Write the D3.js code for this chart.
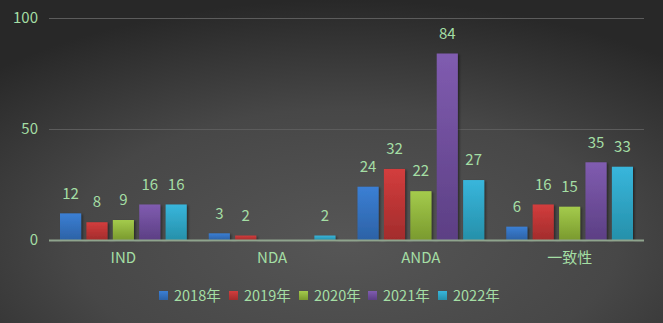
<!DOCTYPE html>
<html><head><meta charset="utf-8">
<script src="https://cdn.jsdelivr.net/npm/d3@7"></script>
<style>html,body{margin:0;padding:0;background:#333;}svg{display:block;}</style>
</head><body>
<svg id="chart" width="663" height="323"></svg>
<script>
const categories = ["IND", "NDA", "ANDA", "一致性"];
const seriesNames = ["2018年", "2019年", "2020年", "2021年", "2022年"];
const s2018 = [12, 3, 24, 6];
const s2019 = [8, 2, 32, 16];
const s2020 = [9, null, 22, 15];
const s2021 = [16, null, 84, 35];
const s2022 = [16, 2, 27, 33];
const yTicks = [0, 50, 100];
const seriesValues = [s2018, s2019, s2020, s2021, s2022];
const colorsTop = ["#3b7fd4", "#d33d3d", "#a4cb4c", "#805cb0", "#38b6dc"];
const colorsBot = ["#2c62a6", "#a22c2c", "#7a9a2e", "#5c3f84", "#2690aa"];
const textColor = "#a4dea4";
const font = "'Noto Sans CJK SC', 'DejaVu Sans', sans-serif";

const svg = d3.select("#chart");
const W = 663, H = 323;
const defs = svg.append("defs");
const bg = defs.append("radialGradient").attr("id", "bg")
  .attr("cx", "52%").attr("cy", "75%").attr("r", "75%");
bg.append("stop").attr("offset", "0%").attr("stop-color", "#565656");
bg.append("stop").attr("offset", "55%").attr("stop-color", "#474747");
bg.append("stop").attr("offset", "100%").attr("stop-color", "#282828");
svg.append("rect").attr("width", W).attr("height", H).attr("fill", "url(#bg)");

seriesNames.forEach((s, i) => {
  const g = defs.append("linearGradient").attr("id", "g" + i)
    .attr("x1", 0).attr("y1", 0).attr("x2", 0).attr("y2", 1);
  g.append("stop").attr("offset", "0%").attr("stop-color", colorsTop[i]);
  g.append("stop").attr("offset", "100%").attr("stop-color", colorsBot[i]);
});
const sh = defs.append("filter").attr("id", "shadow").attr("x", "-20%").attr("y", "-20%").attr("width", "150%").attr("height", "150%");
sh.append("feDropShadow").attr("dx", 1.5).attr("dy", 1).attr("stdDeviation", 1).attr("flood-color", "#000").attr("flood-opacity", 0.45);

const mLeft = 49, mRight = 644, mTop = 18, mBottom = 240;
const x0 = d3.scaleBand().domain(categories).range([mLeft, mRight]).paddingInner(0.148).paddingOuter(0.074);
const x1 = d3.scaleBand().domain(seriesNames).range([0, x0.bandwidth()]).paddingInner(0.2).paddingOuter(0);
const y = d3.scaleLinear().domain([0, 100]).range([mBottom, mTop]);

// gridlines
svg.append("g").selectAll("line").data(yTicks.filter(d => d > 0)).join("line")
  .attr("x1", mLeft).attr("x2", mRight).attr("y1", d => y(d) + 0.5).attr("y2", d => y(d) + 0.5)
  .attr("stroke", "#5c5c5c").attr("stroke-width", 1);

// y axis labels
const yAxis = d3.axisLeft(y).tickValues(yTicks).tickSize(0).tickPadding(11);
const ya = svg.append("g").attr("transform", `translate(${mLeft},0)`).call(yAxis);
ya.select(".domain").remove();
ya.selectAll("text").attr("fill", textColor).style("font-family", font).style("font-size", "15px");

// bars
const groups = svg.append("g").selectAll("g").data(categories).join("g")
  .attr("transform", d => `translate(${x0(d)},0)`);
groups.each(function(cat, ci) {
  const g = d3.select(this);
  const data = seriesNames.map((s, si) => ({ s, si, v: seriesValues[si][ci] })).filter(d => d.v != null);
  g.selectAll("rect").data(data).join("rect")
    .attr("x", d => x1(d.s)).attr("width", x1.bandwidth())
    .attr("y", d => y(d.v)).attr("height", d => y(0) - y(d.v))
    .attr("fill", d => `url(#g${d.si})`).attr("filter", "url(#shadow)");
  g.selectAll("text").data(data).join("text")
    .attr("x", d => x1(d.s) + x1.bandwidth() / 2)
    .attr("y", d => y(d.v) - 20).attr("dy", "0.35em")
    .attr("text-anchor", "middle").attr("fill", textColor)
    .style("font-family", font).style("font-size", "15px")
    .text(d => d.v);
});

// x axis line
svg.append("line").attr("x1", mLeft).attr("x2", mRight).attr("y1", y(0) + 0.5).attr("y2", y(0) + 0.5)
  .attr("stroke", "#8fa48d").attr("stroke-width", 2);

// x labels
const xAxis = d3.axisBottom(x0).tickSize(0).tickPadding(12);
const xa = svg.append("g").attr("transform", `translate(0,${mBottom})`).call(xAxis);
xa.select(".domain").remove();
xa.selectAll("text").attr("fill", textColor).style("font-family", font).style("font-size", "15px");

// legend
const legX = [159, 229, 299, 368, 438];
const leg = svg.append("g").selectAll("g").data(seriesNames).join("g")
  .attr("transform", (d, i) => `translate(${legX[i]},291)`);
leg.append("rect").attr("width", 9).attr("height", 9).attr("fill", (d, i) => `url(#g${i})`);
leg.append("text").attr("x", 15).attr("y", 5).attr("dy", "0.35em")
  .attr("fill", textColor).style("font-family", font).style("font-size", "14.5px").text(d => d);
</script>
</body></html>
